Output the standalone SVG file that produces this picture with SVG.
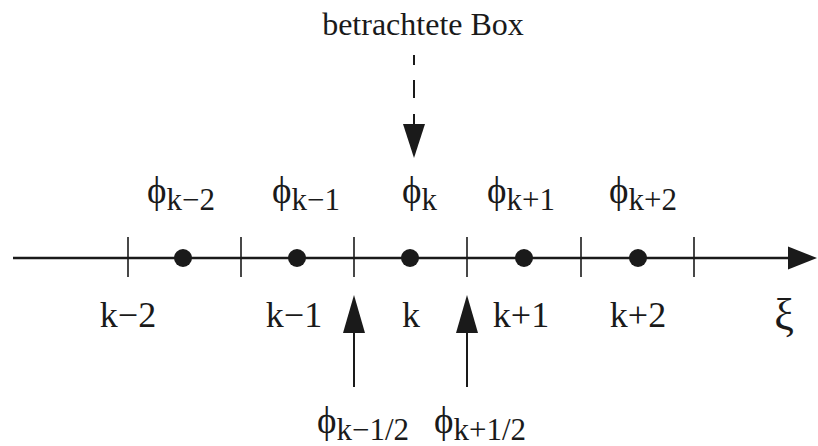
<svg xmlns="http://www.w3.org/2000/svg" width="818" height="446" viewBox="0 0 818 446">
<style>
text{font-family:"Liberation Serif","DejaVu Serif",serif;fill:#1a1a1a}
.lbl{font-size:36px}
.phi{font-size:37px}
.sub{font-size:31px}
.tick{stroke:#1a1a1a;stroke-width:1.6}
.ax{stroke:#1a1a1a;stroke-width:2.6;fill:none}
.sh{stroke:#1a1a1a;stroke-width:2;fill:none}
.head{fill:#1a1a1a}
.dot{fill:#1a1a1a}
</style>
<rect width="818" height="446" fill="#fff"/>
<g id="connectors">
<line class="ax" x1="13" y1="258" x2="792" y2="258"/>
<polygon class="head" points="788,246.5 817,258 788,269.5"/>
<path class="sh" d="M414,55V65M414,80V98M414,114V128"/>
<polygon class="head" points="403,124 425,124 414,158"/>
<line class="sh" x1="354" y1="387" x2="354" y2="325"/>
<polygon class="head" points="343,333 365,333 354,295"/>
<line class="sh" x1="467" y1="387" x2="467" y2="325"/>
<polygon class="head" points="456,333 478,333 467,295"/>
</g>
<g id="ticks">
<line class="tick" x1="128" y1="237" x2="128" y2="277"/>
<line class="tick" x1="241" y1="237" x2="241" y2="277"/>
<line class="tick" x1="354" y1="237" x2="354" y2="277"/>
<line class="tick" x1="467" y1="237" x2="467" y2="277"/>
<line class="tick" x1="581" y1="237" x2="581" y2="277"/>
<line class="tick" x1="694" y1="237" x2="694" y2="277"/>
</g>
<g id="nodes">
<g id="n-km2"><circle class="dot" cx="183" cy="258" r="9"/><text class="phi" x="147" y="203">ϕ<tspan class="sub" dy="7">k−2</tspan></text><text class="lbl" x="128" y="327" text-anchor="middle">k−2</text></g>
<g id="n-km1"><circle class="dot" cx="297" cy="258" r="9"/><text class="phi" x="272" y="203">ϕ<tspan class="sub" dy="7">k−1</tspan></text><text class="lbl" x="294" y="327" text-anchor="middle">k−1</text></g>
<g id="n-k"><circle class="dot" cx="410" cy="258" r="9"/><text class="phi" x="402" y="203">ϕ<tspan class="sub" dy="7">k</tspan></text><text class="lbl" x="411" y="327" text-anchor="middle">k</text></g>
<g id="n-kp1"><circle class="dot" cx="524" cy="258" r="9"/><text class="phi" x="487" y="203">ϕ<tspan class="sub" dy="7">k+1</tspan></text><text class="lbl" x="521" y="327" text-anchor="middle">k+1</text></g>
<g id="n-kp2"><circle class="dot" cx="638" cy="258" r="9"/><text class="phi" x="609" y="203">ϕ<tspan class="sub" dy="7">k+2</tspan></text><text class="lbl" x="638" y="327" text-anchor="middle">k+2</text></g>
<g id="xi"><text x="784" y="329" text-anchor="middle" style="font-size:44px">ξ</text></g>
<g id="box-label"><text x="423" y="35" text-anchor="middle" style="font-size:32px">betrachtete Box</text></g>
<g id="flux-m"><text class="phi" x="317" y="433">ϕ<tspan class="sub" dy="7">k−1/2</tspan></text></g>
<g id="flux-p"><text class="phi" x="434" y="433">ϕ<tspan class="sub" dy="7">k+1/2</tspan></text></g>
</g>
</svg>
